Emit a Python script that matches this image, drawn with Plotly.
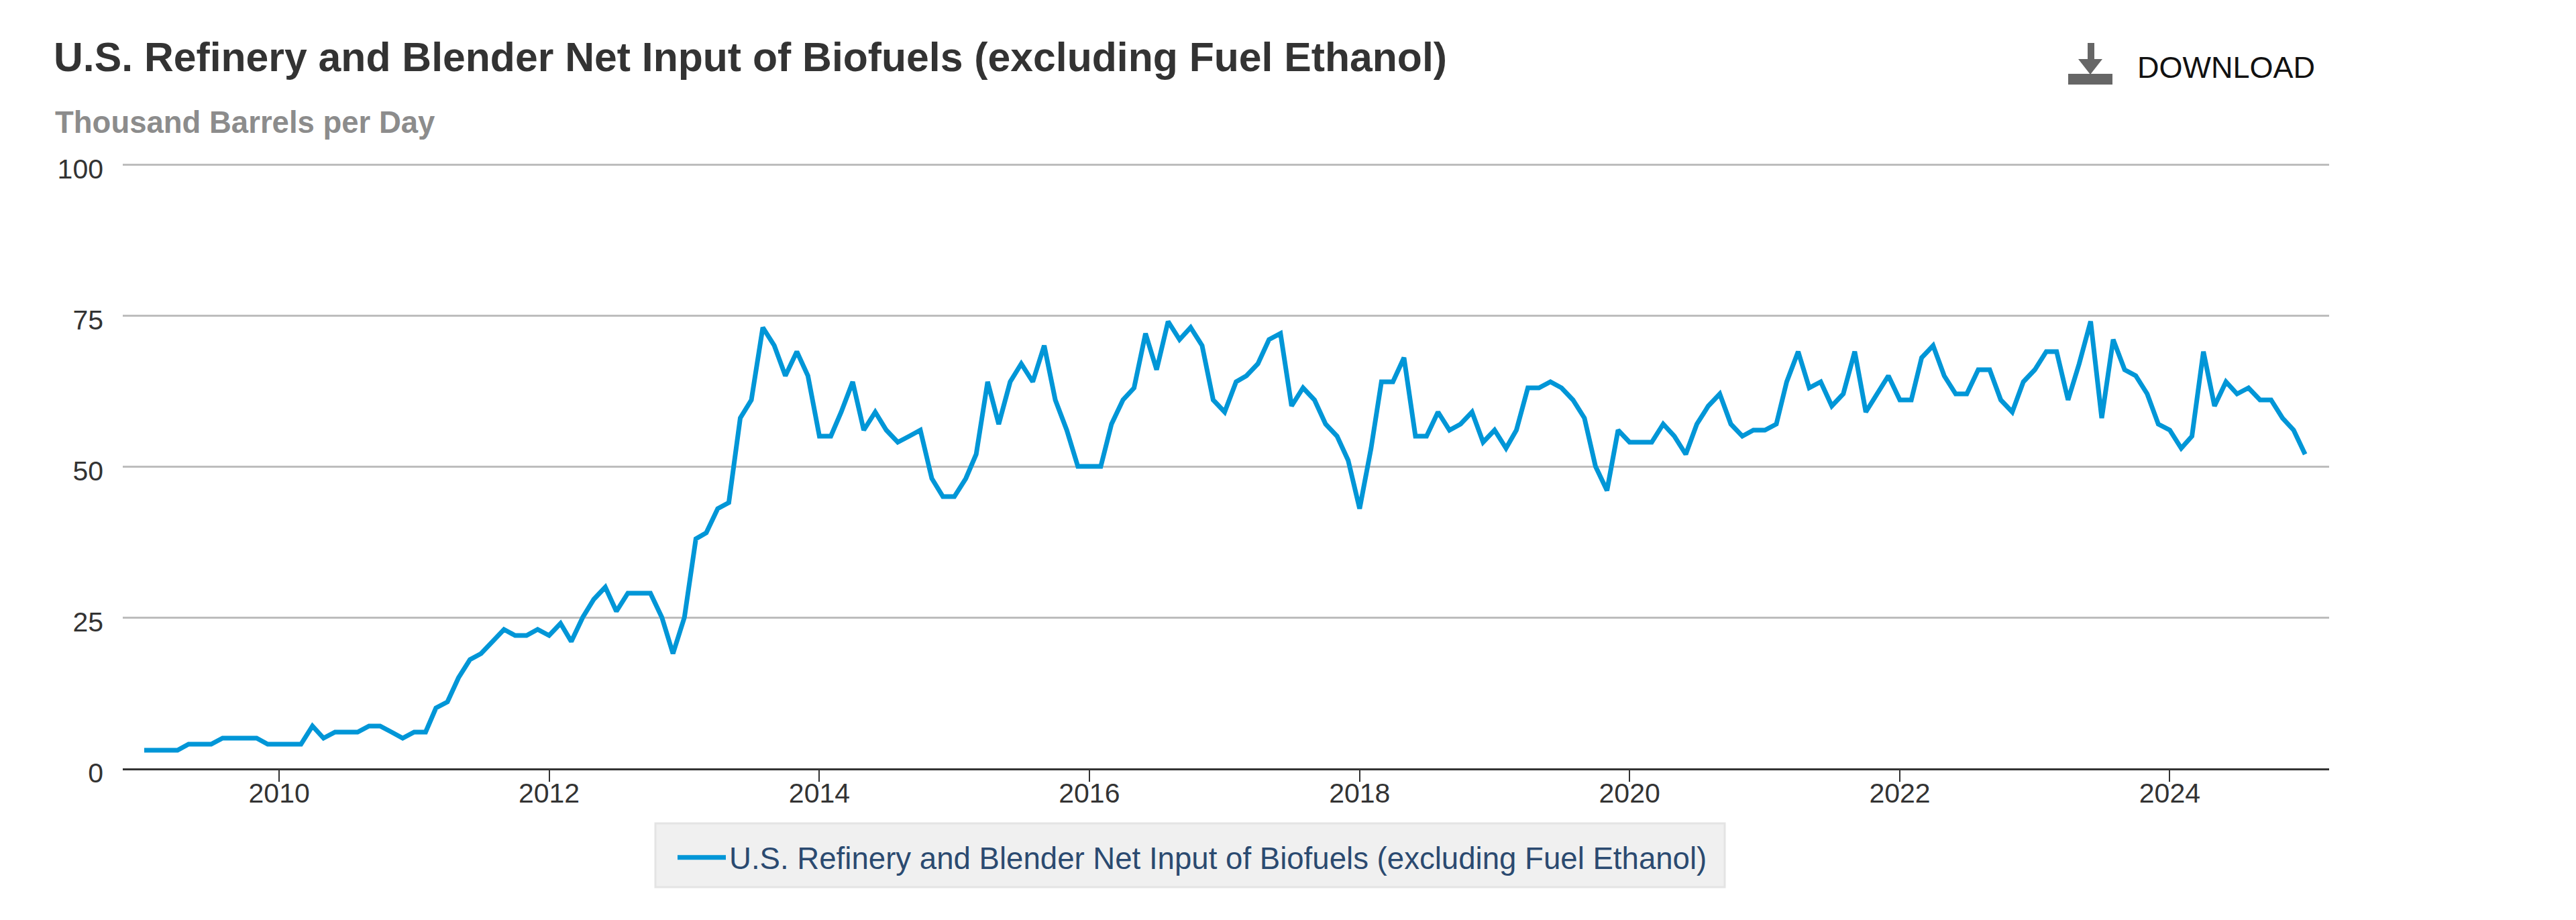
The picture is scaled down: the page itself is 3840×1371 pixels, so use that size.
import plotly.graph_objects as go
import pandas as pd

TITLE = "U.S. Refinery and Blender Net Input of Biofuels (excluding Fuel Ethanol)"
SUBTITLE = "Thousand Barrels per Day"
SERIES_NAME = TITLE
START_MONTH = "2009-01-01"
Y_TICKS = [0, 25, 50, 75, 100]

values_2009 = [3, 3, 3, 3, 4, 4, 4, 5, 5, 5, 5, 4]
values_2010 = [4, 4, 4, 7, 5, 6, 6, 6, 7, 7, 6, 5]
values_2011 = [6, 6, 10, 11, 15, 18, 19, 21, 23, 22, 22, 23]
values_2012 = [22, 24, 21, 25, 28, 30, 26, 29, 29, 29, 25, 19]
values_2013 = [25, 38, 39, 43, 44, 58, 61, 73, 70, 65, 69, 65]
values_2014 = [55, 55, 59, 64, 56, 59, 56, 54, 55, 56, 48, 45]
values_2015 = [45, 48, 52, 64, 57, 64, 67, 64, 70, 61, 56, 50]
values_2016 = [50, 50, 57, 61, 63, 72, 66, 74, 71, 73, 70, 61]
values_2017 = [59, 64, 65, 67, 71, 72, 60, 63, 61, 57, 55, 51]
values_2018 = [43, 53, 64, 64, 68, 55, 55, 59, 56, 57, 59, 54]
values_2019 = [56, 53, 56, 63, 63, 64, 63, 61, 58, 50, 46, 56]
values_2020 = [54, 54, 54, 57, 55, 52, 57, 60, 62, 57, 55, 56]
values_2021 = [56, 57, 64, 69, 63, 64, 60, 62, 69, 59, 62, 65]
values_2022 = [61, 61, 68, 70, 65, 62, 62, 66, 66, 61, 59, 64]
values_2023 = [66, 69, 69, 61, 67, 74, 58, 71, 66, 65, 62, 57]
values_2024 = [56, 53, 55, 69, 60, 64, 62, 63, 61, 61, 58, 56]
values_2025 = [52]

values = (values_2009 + values_2010 + values_2011 + values_2012 + values_2013 + values_2014
          + values_2015 + values_2016 + values_2017 + values_2018 + values_2019 + values_2020
          + values_2021 + values_2022 + values_2023 + values_2024 + values_2025)
months = pd.date_range(START_MONTH, periods=len(values), freq="MS")

OFF = 8  # page margin of the browser
W, H = 3840 - 2 * OFF, 1371 - 2 * OFF
L, R, T, B = 183 - OFF, 3472 - OFF, 243 - OFF, 1145 - OFF
FONT = "Liberation Sans"
LINE = "#0096D7"


def fx(p):
    return (p - OFF - L) / (R - L)


def fy(p):
    return (B - (p - OFF)) / (B - T)


fig = go.Figure()
fig.add_trace(go.Scatter(x=months, y=values, mode="lines", name=SERIES_NAME,
                         line=dict(color=LINE, width=7), showlegend=True))

icon = "#666666"
shapes = [
    dict(type="rect", xref="paper", yref="paper", x0=fx(977), x1=fx(2571), y0=fy(1227), y1=fy(1322),
         fillcolor="#f0f0f0", line=dict(color="#e4e4e4", width=3), layer="below"),
    dict(type="rect", xref="paper", yref="paper", x0=fx(3083), x1=fx(3149), y0=fy(110), y1=fy(126),
         fillcolor=icon, line_width=0),
    dict(type="rect", xref="paper", yref="paper", x0=fx(3112), x1=fx(3122), y0=fy(64), y1=fy(90),
         fillcolor=icon, line_width=0),
    dict(type="path", xref="paper", yref="paper",
         path=f"M {fx(3098)} {fy(88)} L {fx(3134)} {fy(88)} L {fx(3116)} {fy(111)} Z",
         fillcolor=icon, line_width=0),
]

annotations = [
    dict(text=f"<b>{TITLE}</b>", xref="paper", yref="paper", x=fx(78), y=fy(85), xanchor="left",
         yanchor="middle", showarrow=False, font=dict(family=FONT, size=60.7, color="#333333")),
    dict(text=f"<b>{SUBTITLE}</b>", xref="paper", yref="paper", x=fx(80), y=fy(182), xanchor="left",
         yanchor="middle", showarrow=False, font=dict(family=FONT, size=45.5, color="#8c8c8c")),
    dict(text="DOWNLOAD", xref="paper", yref="paper", x=fx(3184), y=fy(101), xanchor="left",
         yanchor="middle", showarrow=False, font=dict(family=FONT, size=45, color="#111111")),
]

fig.update_layout(
    width=W, height=H, autosize=False,
    margin=dict(l=L, r=W - R, t=T, b=H - B, pad=0),
    paper_bgcolor="white", plot_bgcolor="white",
    font=dict(family=FONT, size=41, color="#333333"),
    shapes=shapes, annotations=annotations,
    xaxis=dict(type="date", range=["2008-11-04", "2025-03-07"], tick0="2010-01-01", dtick="M24",
               tickformat="%Y", showgrid=False, zeroline=False, showline=True, linecolor="#333333",
               linewidth=3, ticks="outside", ticklen=17, tickwidth=2, tickcolor="#333333",
               ticklabelstandoff=-18,
               tickfont=dict(family=FONT, size=41, color="#333333")),
    yaxis=dict(range=[0, 100.222], tickvals=Y_TICKS, showgrid=True, gridcolor="#bdbdbd", gridwidth=3,
               zeroline=False, showline=False, ticks="", ticklabelstandoff=28, ticklabelshift=7,
               tickfont=dict(family=FONT, size=41, color="#333333")),
    legend=dict(x=fx(1005), y=fy(1278), xanchor="left", yanchor="middle", bgcolor="rgba(0,0,0,0)",
                borderwidth=0, itemwidth=72,
                font=dict(family=FONT, size=45.6, color="#2b4a70")),
)

fig.write_html("out.html")
